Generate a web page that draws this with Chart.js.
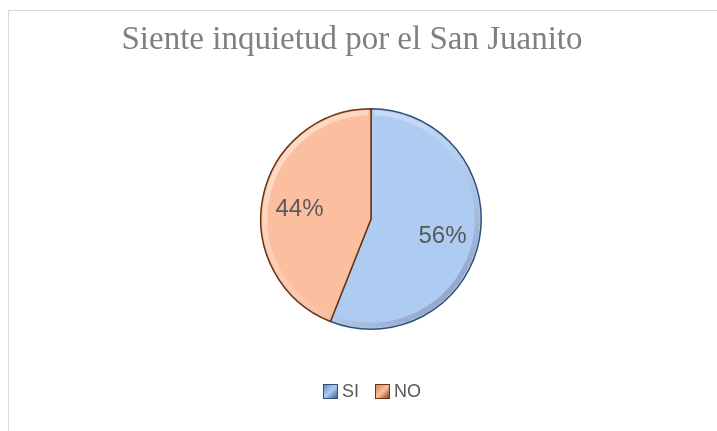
<!DOCTYPE html>
<html>
<head>
<meta charset="utf-8">
<script src="https://cdn.jsdelivr.net/npm/chart.js@4/dist/chart.umd.min.js"></script>
<style>
  body { margin: 0; background: #fff; }
  #frame { position: absolute; left: 8px; top: 10px; width: 720px; height: 430px; border: 1px solid #d9d9d9; }
  #wrap { position: absolute; left: 0; top: 0; width: 717px; height: 431px; }
</style>
</head>
<body>
<div id="frame"></div>
<div id="wrap"><canvas id="pieChart"></canvas></div>
<script>
var labels = ["SI", "NO"];
var values = [56, 44];
var title = "Siente inquietud por el San Juanito";

var fills = [
    ["#c4dcfa", "#aecbf1", "#a3c3eb", "#c9e0fb", "#4f77a8"],
    ["#ffd0b6", "#fbbf9f", "#f5b491", "#ffd6c0", "#c0652a"]
];
var edges = ["#2f4f78", "#6b3410"];
var keyColors = ["#5b86bd", "#d9783e"];

function sliceFill(ctx) {
    var arc = ctx.element;
    var c = fills[ctx.dataIndex];
    if (!arc || !arc.outerRadius) return c[1];
    var g = ctx.chart.ctx.createRadialGradient(arc.x - 20, arc.y - 25, 0, arc.x, arc.y, arc.outerRadius);
    g.addColorStop(0, c[0]);
    g.addColorStop(0.55, c[1]);
    g.addColorStop(0.88, c[2]);
    g.addColorStop(0.94, c[3]);
    g.addColorStop(1, c[4]);
    return g;
}

// bevel rim, percentage labels, title and legend
var extras = {
    id: 'extras',
    afterDatasetsDraw: function (chart) {
        var ctx = chart.ctx;
        var meta = chart.getDatasetMeta(0);
        var total = values.reduce(function (a, b) { return a + b; }, 0);
        ctx.save();
        meta.data.forEach(function (arc) {
            var r = arc.outerRadius;
            var g = ctx.createLinearGradient(arc.x - r, arc.y - r, arc.x + r, arc.y + r);
            g.addColorStop(0, 'rgba(255,255,255,0.55)');
            g.addColorStop(0.5, 'rgba(255,255,255,0.15)');
            g.addColorStop(1, 'rgba(0,0,40,0.35)');
            ctx.strokeStyle = g;
            ctx.lineWidth = 5;
            ctx.beginPath();
            ctx.arc(arc.x, arc.y, r - 4, arc.startAngle + 0.03, arc.endAngle - 0.03);
            ctx.stroke();
        });

        ctx.font = '24px "Liberation Sans", Arial, sans-serif';
        ctx.fillStyle = '#595959';
        ctx.textAlign = 'center';
        ctx.textBaseline = 'middle';
        meta.data.forEach(function (arc, i) {
            var mid = (arc.startAngle + arc.endAngle) / 2;
            var r = arc.outerRadius * 0.66;
            var txt = Math.round(values[i] / total * 100) + '%';
            ctx.fillText(txt, arc.x + Math.cos(mid) * r, arc.y + Math.sin(mid) * r + 4);
        });

        ctx.font = '33px "Liberation Serif", "Times New Roman", serif';
        ctx.fillStyle = '#808080';
        ctx.textBaseline = 'alphabetic';
        ctx.fillText(title, 352, 49);

        // legend
        ctx.font = '18px "Liberation Sans", Arial, sans-serif';
        ctx.textAlign = 'left';
        ctx.textBaseline = 'middle';
        var x = 323, y = 391;
        labels.forEach(function (lab, i) {
            var g = ctx.createLinearGradient(x, y - 7, x + 15, y + 8);
            g.addColorStop(0, keyColors[i]);
            g.addColorStop(0.5, fills[i][1]);
            g.addColorStop(1, edges[i]);
            ctx.fillStyle = g;
            ctx.fillRect(x, y - 7, 15, 15);
            ctx.strokeStyle = edges[i];
            ctx.lineWidth = 1;
            ctx.strokeRect(x + 0.5, y - 6.5, 14, 14);
            ctx.fillStyle = '#595959';
            ctx.fillText(lab, x + 19, y + 1);
            x += 19 + ctx.measureText(lab).width + 16;
        });
        ctx.restore();
    }
};

new Chart(document.getElementById("pieChart"), {
    type: 'pie',
    data: {
        labels: labels,
        datasets: [{
            data: values,
            backgroundColor: sliceFill,
            borderColor: edges,
            borderWidth: 1.5
        }]
    },
    options: {
        responsive: true,
        maintainAspectRatio: false,
        animation: false,
        layout: {
            padding: { top: 108, bottom: 101, left: 25, right: 0 }
        },
        plugins: {
            legend: { display: false },
            tooltip: { enabled: false }
        }
    },
    plugins: [extras]
});
</script>
</body>
</html>
